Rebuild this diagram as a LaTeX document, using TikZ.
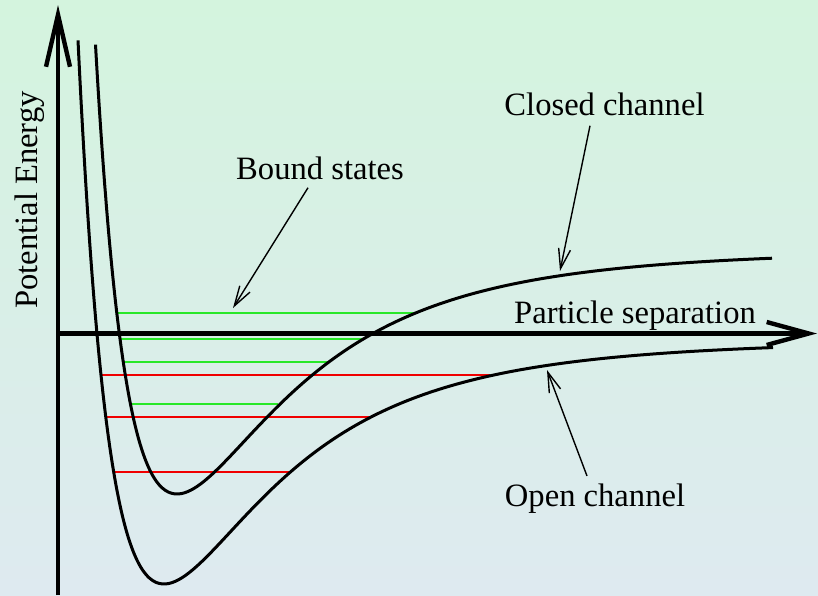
\documentclass[tikz,border=0pt]{standalone}
\usepackage{fontspec}
\setmainfont{Liberation Serif}
\usetikzlibrary{arrows.meta}

\definecolor{bgtop}{RGB}{212,244,222}
\definecolor{bgbottom}{RGB}{222,234,240}
\definecolor{closedlevel}{RGB}{40,232,40}
\definecolor{openlevel}{RGB}{240,0,0}

\begin{document}
\begin{tikzpicture}[
  x=0.5pt, y=-0.5pt,
  font=\fontsize{16.3}{19}\selectfont,
  axis/.style={line width=2.2pt},
  curve/.style={line width=1.5pt, smooth},
  pointer/.style={-{Straight Barb[length=10pt, width=6pt]}, line width=0.7pt},
  level/.style={line width=0.6pt},
  closedlvl/.style={level, draw=closedlevel},
  openlvl/.style={level, draw=openlevel},
  label/.style={inner sep=0pt, anchor=base},
  declare function={
    closedpot(\r)=250+244*(2*(612/(\r+435))^6-(612/(\r+435))^12);
    openpot(\r)=340+244*(2*(609/(\r+445))^6-(609/(\r+445))^12);
  }
]

% =========================
% Background
% =========================
\shade[top color=bgtop, bottom color=bgbottom] (0,0) rectangle (818,595);
\useasboundingbox (0,0) rectangle (818,595);

% =========================
% Axes
% =========================
\coordinate (ybot) at (58,595);
\coordinate (ytop) at (58,5);
\coordinate (xleft) at (58,333.5);
\coordinate (xright) at (817,333.5);

\draw[axis, -{Straight Barb[length=26pt, width=12pt]}] (ybot) -- (ytop);
\draw[axis, -{Straight Barb[length=21pt, width=11.5pt]}] (xleft) -- (xright);

\node[label] (xlabel) at (635,323) {Particle separation};
\node[label, rotate=90] (ylabel) at (37,200) {Potential Energy};

% =========================
% Bound states
% =========================
% closed channel levels
\draw[closedlvl] (118,313) -- (415,313);
\draw[closedlvl] (121,339) -- (363,339);
\draw[closedlvl] (124,362) -- (328,362);
\draw[closedlvl] (132,404) -- (278,404);
% open channel levels
\draw[openlvl] (101,375) -- (490,375);
\draw[openlvl] (107,417) -- (372,417);
\draw[openlvl] (113,472) -- (292,472);

% =========================
% Potential curves
% =========================
% open channel
\draw[curve] plot[domain=78:130, samples=80] (\x,{openpot(\x)})
  -- plot[domain=130:773, samples=200] (\x,{openpot(\x)});
% closed channel
\draw[curve] plot[domain=95.5:140, samples=80] (\x,{closedpot(\x)})
  -- plot[domain=140:772, samples=200] (\x,{closedpot(\x)});

% =========================
% Labels and pointers
% =========================
\node[label] (bound) at (320,179) {Bound states};
\node[label] (closed) at (604.5,115) {Closed channel};
\node[label] (open) at (595,506) {Open channel};

\coordinate (boundtip) at (233,308);
\coordinate (closedtip) at (560,271);
\coordinate (opentip) at (547,370);

\draw[pointer] ([shift={(-12,8)}]bound.south) -- (boundtip);
\draw[pointer] ([shift={(-14.5,10)}]closed.south) -- (closedtip);
\draw[pointer] ([shift={(-8,-7)}]open.north) -- (opentip);

\end{tikzpicture}
\end{document}
